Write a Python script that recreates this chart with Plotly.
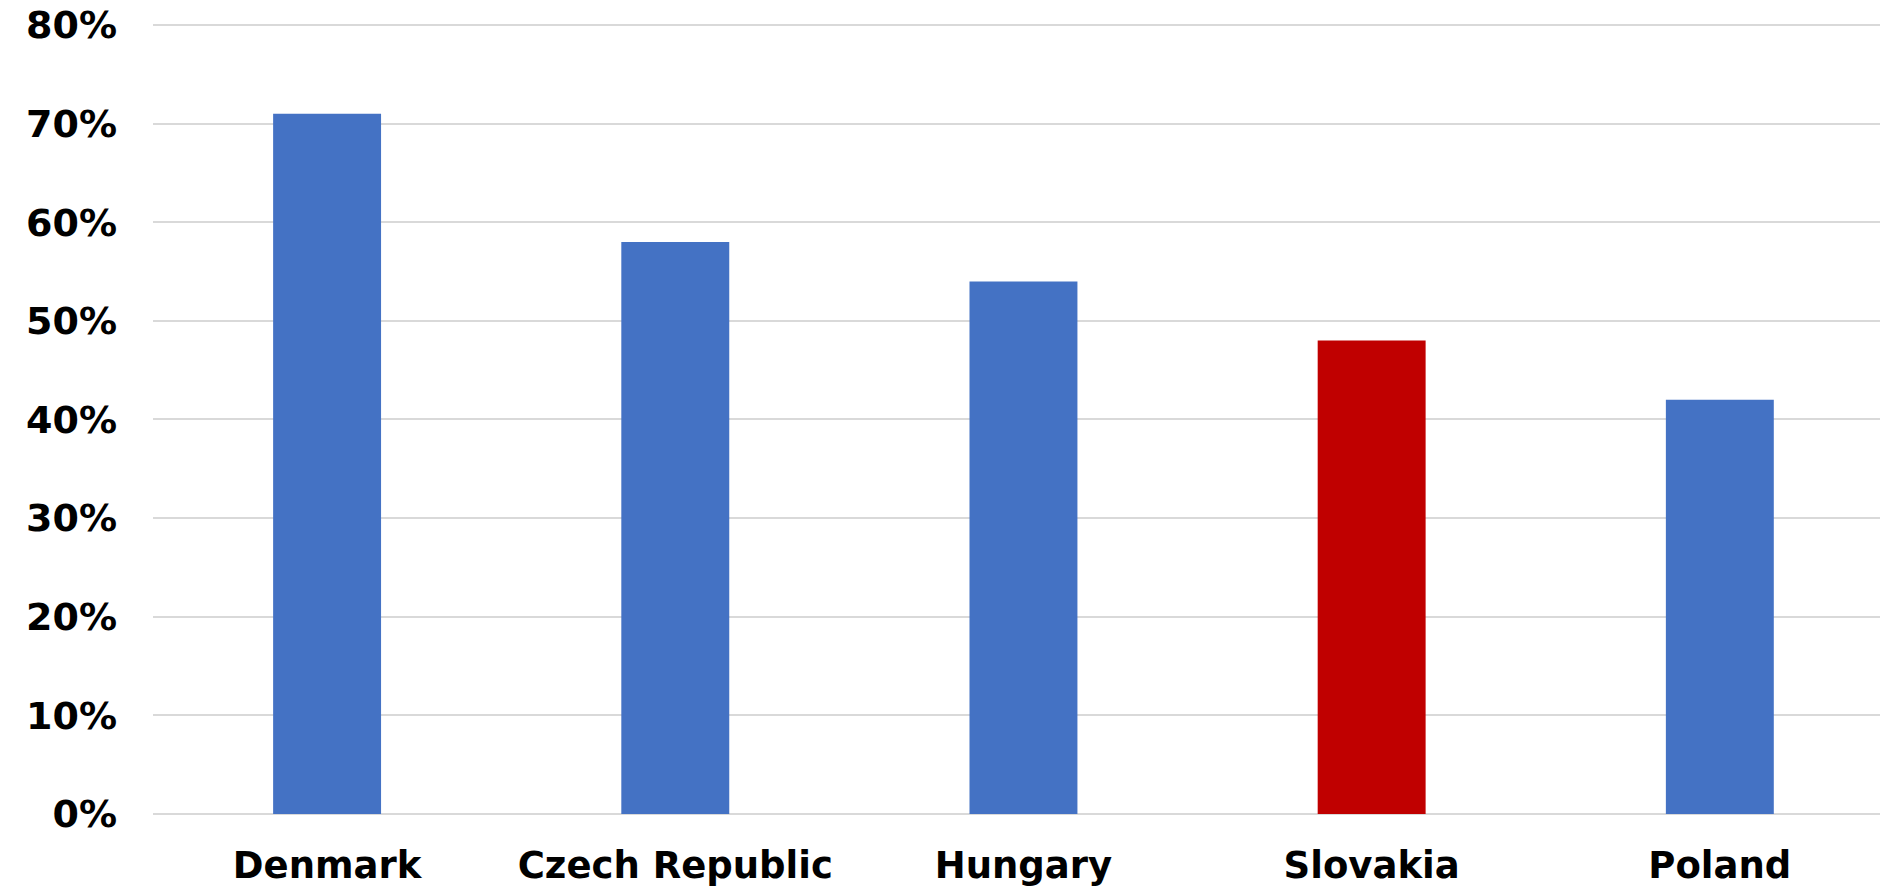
import plotly.graph_objects as go

countries = ["Denmark", "Czech Republic", "Hungary", "Slovakia", "Poland"]
values = [0.71, 0.58, 0.54, 0.48, 0.42]
bar_colors = ["#4472C4", "#4472C4", "#4472C4", "#C00000", "#4472C4"]
y_ticks = [0, 0.1, 0.2, 0.3, 0.4, 0.5, 0.6, 0.7, 0.8]
y_labels = ["0%", "10%", "20%", "30%", "40%", "50%", "60%", "70%", "80%"]

fig = go.Figure(go.Bar(
    x=countries, y=values,
    marker=dict(color=bar_colors, line=dict(width=0)),
    hoverinfo="skip",
))

font_family = "DejaVu Sans, Verdana, sans-serif"
fig.update_layout(
    width=1880, height=887,
    margin=dict(l=153, r=0, t=23, b=73),
    paper_bgcolor="white", plot_bgcolor="white",
    bargap=0.69,
    showlegend=False,
    font=dict(family=font_family, size=36, color="black"),
)
fig.update_xaxes(
    range=[-0.5, 4.46],
    showgrid=False, showline=False, ticks="",
    tickfont=dict(family=font_family, size=37, color="black", weight="bold"),
    ticklabelstandoff=26,
)
fig.update_yaxes(
    range=[0, 0.802],
    tickvals=y_ticks, ticktext=y_labels,
    showgrid=True, gridcolor="#d9d9d9", gridwidth=2,
    zeroline=True, zerolinecolor="#d9d9d9", zerolinewidth=2,
    showline=False, ticks="",
    tickfont=dict(family=font_family, size=38, color="black", weight="bold"),
    ticklabelstandoff=35,
)

fig.write_html("out.html")
